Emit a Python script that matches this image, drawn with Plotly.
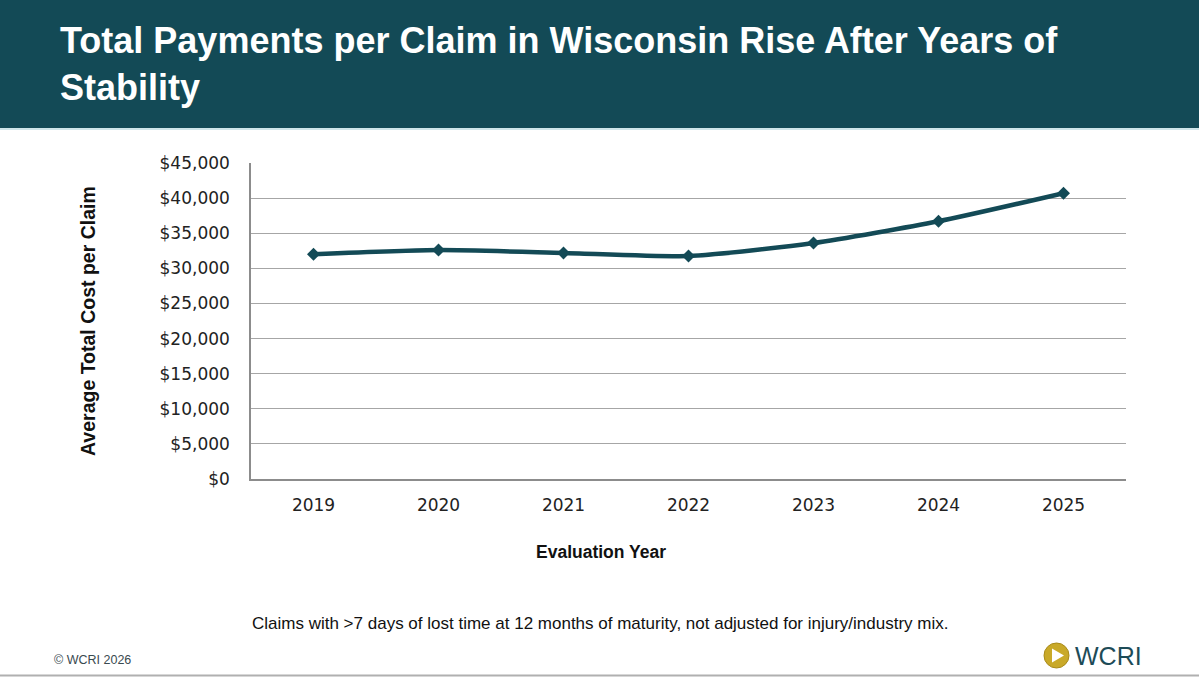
import plotly.graph_objects as go

years = ["2019", "2020", "2021", "2022", "2023", "2024", "2025"]
avg_cost = [32000, 32600, 32200, 31750, 33600, 36700, 40700]
y_ticks = [0, 5000, 10000, 15000, 20000, 25000, 30000, 35000, 40000, 45000]
y_labels = ["$0", "$5,000", "$10,000", "$15,000", "$20,000", "$25,000",
            "$30,000", "$35,000", "$40,000", "$45,000"]

W, H = 1199, 677
L, R, T, B = 251, 1126, 163, 479
PW, PH = R - L, B - T

def px(x):
    return (x - L) / PW

def py(y):
    return (B - y) / PH

TEAL = "#134a56"

fig = go.Figure()
fig.add_trace(go.Scatter(
    x=years, y=avg_cost, mode="lines+markers",
    line=dict(color=TEAL, width=4.5, shape="spline", smoothing=0.6),
    marker=dict(symbol="diamond", size=10, color=TEAL),
    hoverinfo="x+y", showlegend=False,
))

fig.update_layout(
    width=W, height=H,
    margin=dict(l=L, r=W - R, t=T, b=H - B),
    paper_bgcolor="white", plot_bgcolor="white",
    xaxis=dict(
        type="category", range=[-0.5, 6.5], showgrid=False, showline=True, linecolor="#8c8c8c",
        linewidth=1.5, ticks="", tickfont=dict(family="DejaVu Sans", size=17, color="#222"),
        ticklabelstandoff=10,
    ),
    yaxis=dict(
        range=[0, 45000], tickvals=y_ticks, ticktext=y_labels,
        showgrid=True, gridcolor="#a6a6a6", gridwidth=1,
        showline=True, linecolor="#8c8c8c", linewidth=1.5,
        ticks="", tickfont=dict(family="DejaVu Sans", size=17, color="#222"),
        ticklabelstandoff=16, zeroline=False,
    ),
    shapes=[
        dict(type="rect", xref="paper", yref="paper",
             x0=px(0), x1=px(W), y0=py(128), y1=py(0),
             fillcolor=TEAL, line=dict(width=0), layer="below"),
        dict(type="rect", xref="paper", yref="paper",
             x0=px(0), x1=px(W), y0=py(130), y1=py(128),
             fillcolor="#cfe6ea", line=dict(width=0), layer="below"),
        dict(type="line", xref="paper", yref="paper",
             x0=px(0), x1=px(W), y0=py(675.5), y1=py(675.5),
             line=dict(color="#b0b0b0", width=2)),
        dict(type="circle", xref="paper", yref="paper",
             x0=px(1044), x1=px(1069), y0=py(668), y1=py(643),
             fillcolor="#c9a928", line=dict(color="#a88a18", width=1)),
        dict(type="path", xref="paper", yref="paper",
             path=f"M {px(1052)} {py(648.5)} L {px(1064)} {py(655.5)} L {px(1052)} {py(662.5)} Z",
             fillcolor="white", line=dict(width=0)),
    ],
    annotations=[
        dict(text="Total Payments per Claim in Wisconsin Rise After Years of<br>Stability",
             xref="paper", yref="paper", x=px(58), y=py(18), xanchor="left", yanchor="top",
             align="left", showarrow=False,
             font=dict(family="Liberation Sans", size=36, color="white", weight="bold")),
        dict(text="Average Total Cost per Claim", textangle=-90,
             xref="paper", yref="paper", x=px(88), y=py(321), xanchor="center", yanchor="middle",
             showarrow=False,
             font=dict(family="Liberation Sans", size=19.5, color="#111", weight="bold")),
        dict(text="Evaluation Year",
             xref="paper", yref="paper", x=px(601), y=py(552), xanchor="center", yanchor="middle",
             showarrow=False,
             font=dict(family="Liberation Sans", size=17.5, color="#111", weight="bold")),
        dict(text="Claims with >7 days of lost time at 12 months of maturity, not adjusted for injury/industry mix.",
             xref="paper", yref="paper", x=px(600), y=py(623), xanchor="center", yanchor="middle",
             showarrow=False,
             font=dict(family="Liberation Sans", size=17, color="#111")),
        dict(text="© WCRI 2026",
             xref="paper", yref="paper", x=px(52), y=py(660), xanchor="left", yanchor="middle",
             showarrow=False,
             font=dict(family="Liberation Sans", size=12.5, color="#3a4a50")),
        dict(text="WCRI",
             xref="paper", yref="paper", x=px(1073), y=py(656), xanchor="left", yanchor="middle",
             showarrow=False,
             font=dict(family="Liberation Sans", size=25, color="#1d4b57")),
    ],
)

fig.write_html("out.html")
